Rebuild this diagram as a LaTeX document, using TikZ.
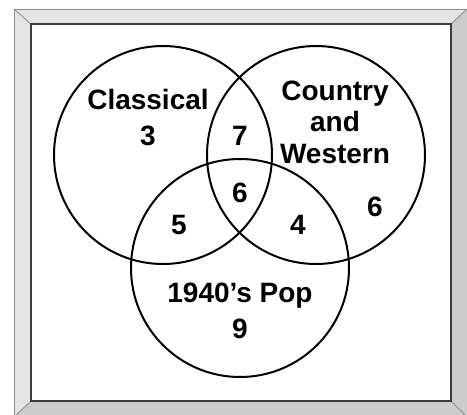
\documentclass[tikz,border=0pt]{standalone}
\usepackage{fontspec}
\setmainfont{Liberation Sans}
\usetikzlibrary{positioning}
\definecolor{frlight}{RGB}{228,228,228}
\definecolor{frdark}{RGB}{204,204,204}
\definecolor{fredge}{RGB}{140,140,140}
\definecolor{frinner}{RGB}{60,60,60}

\begin{document}
\begin{tikzpicture}[
  x=1pt, y=-1pt,
  setcircle/.style={draw=black, line width=2pt, circle, minimum size=218pt, inner sep=0pt},
  txt/.style={font=\bfseries\fontsize{28}{31.5}\selectfont, align=center, inner sep=0pt, anchor=base},
  bevel/.style={draw=fredge, line width=0.8pt, line join=miter}
]
\useasboundingbox (0,0) rectangle (467,415);
% frame corners
\coordinate (oTL) at (14,9);
\coordinate (oTR) at (467,9);
\coordinate (oBR) at (467,417);
\coordinate (oBL) at (14,417);
\coordinate (iTL) at (31,24);
\coordinate (iTR) at (451,24);
\coordinate (iBR) at (451,401);
\coordinate (iBL) at (31,401);
\fill[frlight] (oTL) -- (oTR) -- (iTR) -- (iTL) -- cycle;
\fill[frlight] (oTL) -- (iTL) -- (iBL) -- (oBL) -- cycle;
\fill[frdark] (oTR) -- (oBR) -- (iBR) -- (iTR) -- cycle;
\fill[frdark] (oBL) -- (iBL) -- (iBR) -- (oBR) -- cycle;
\draw[bevel] (oBL) -- (oTL) -- (oTR);
\draw[bevel] (oTL) -- (iTL) (oTR) -- (iTR) (oBR) -- (iBR) (oBL) -- (iBL);
\draw[draw=frinner, line width=1.6pt] (iTL) rectangle (iBR);

% sets
\node[setcircle] (classical) at (163,155) {};
\node[setcircle] (country) at (316,155) {};
\node[setcircle] (pop) at (240,268) {};

% names and counts
\node[txt] (classicalname) at (148,110) {Classical};
\node[txt] (classicalonly) at (148,145) {3};
\node[txt] (countryname) at (335,163) {Country\\and\\Western};
\node[txt] (countryonly) at (375,216) {6};
\node[txt] (popname) at (240,302) {1940’s Pop};
\node[txt] (poponly) at (240,338) {9};
\node[txt] (clco) at (240,145) {7};
\node[txt] (clpop) at (179,234) {5};
\node[txt] (copop) at (298,234) {4};
\node[txt] (allthree) at (240,202) {6};
\end{tikzpicture}
\end{document}
